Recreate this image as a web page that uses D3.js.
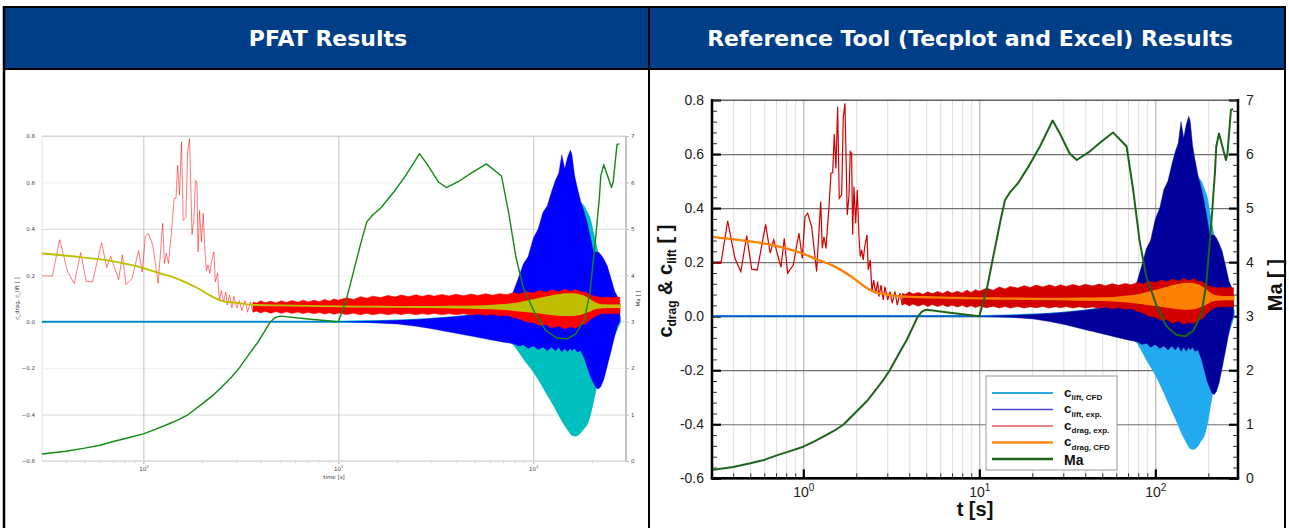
<!DOCTYPE html>
<html><head><meta charset="utf-8">
<script src="https://cdn.jsdelivr.net/npm/d3@7"></script>
<style>html,body{margin:0;padding:0;background:#fff;} svg{display:block}</style>
</head><body>
<svg id="chart" width="1289" height="528"></svg>
<script>
// ---------------- DATA ----------------
const headerTitles = ["PFAT Results", "Reference Tool (Tecplot and Excel) Results"];
const coefTicks = [-0.6, -0.4, -0.2, 0.0, 0.2, 0.4, 0.6, 0.8];
const machTicks = [0, 1, 2, 3, 4, 5, 6, 7];
const timeDecades = [1, 10, 100];
const legendLabels = [["c", "lift, CFD"], ["c", "lift, exp."], ["c", "drag, exp."], ["c", "drag, CFD"], ["Ma", ""]];

// c_drag experimental: individual early samples [s], value
const dragExpTime = [0.30,0.341,0.372,0.409,0.442,0.477,0.509,0.548,0.611,0.649,0.679,0.747,0.780,0.815,0.877,0.945,0.987,1.023,1.059,1.116,1.191,1.256,1.282,1.311,1.346,1.400,1.437,1.469,1.500,1.533,1.568,1.601,1.652,1.687,1.725,1.777,1.817,1.849,1.882,1.908,1.941,1.984,2.027,2.072,2.109,2.147,2.193,2.233,2.301,2.340,2.402,2.456,2.511,2.578,2.647,2.692,2.764,2.846,2.909,3.02,3.11,3.20,3.32,3.42,3.54,3.65];
const dragExpValue = [0.198,0.196,0.353,0.214,0.165,0.298,0.174,0.171,0.340,0.233,0.282,0.181,0.288,0.159,0.189,0.307,0.214,0.368,0.381,0.331,0.165,0.424,0.251,0.294,0.251,0.405,0.529,0.531,0.674,0.547,0.775,0.436,0.449,0.732,0.788,0.375,0.442,0.609,0.603,0.301,0.479,0.344,0.467,0.294,0.220,0.245,0.208,0.257,0.301,0.171,0.208,0.091,0.134,0.085,0.128,0.072,0.115,0.060,0.109,0.060,0.091,0.048,0.091,0.041,0.085,0.041];
// c_drag experimental: dense oscillation envelope (upper / lower)
const dragBandTime = [3.65,3.8,4.0,4.2,4.5,4.8,5.1,5.4,5.8,6.2,6.6,7.0,7.5,8.0,8.5,9.0,9.5,10,11,12,13,14,15,16.5,18,19.5,21,23,25,27,29,31,34,37,40,44,48,52,57,62,67,73,79,85,92,100,108,116,125,135,145,155,165,175,185,195,205,215,225,240,255,268,278];
const dragBandHigh = [0.085,0.080,0.090,0.082,0.088,0.081,0.090,0.083,0.091,0.084,0.093,0.085,0.092,0.086,0.096,0.088,0.098,0.092,0.103,0.096,0.108,0.101,0.110,0.104,0.113,0.106,0.115,0.108,0.116,0.109,0.116,0.110,0.117,0.111,0.118,0.112,0.119,0.113,0.120,0.114,0.121,0.116,0.125,0.119,0.129,0.124,0.134,0.127,0.137,0.129,0.140,0.131,0.139,0.128,0.128,0.116,0.110,0.107,0.104,0.106,0.104,0.106,0.105];
const dragBandLow = [0.041,0.046,0.038,0.045,0.037,0.044,0.036,0.043,0.036,0.042,0.035,0.041,0.034,0.040,0.033,0.039,0.032,0.038,0.031,0.037,0.030,0.036,0.030,0.036,0.030,0.035,0.031,0.036,0.030,0.035,0.031,0.036,0.030,0.035,0.030,0.034,0.029,0.033,0.028,0.032,0.026,0.028,0.018,0.012,0.000,-0.004,-0.016,-0.012,-0.026,-0.018,-0.030,-0.022,-0.028,-0.014,-0.010,0.008,0.020,0.030,0.034,0.035,0.034,0.036,0.035];

// c_drag CFD (upper / lower of its oscillation; equal while steady)
const dragCfdTime = [0.30,0.43,0.66,0.98,1.22,1.45,1.88,2.24,2.50,2.90,3.80,5,7,10,15,20,30,40,50,60,70,80,90,100,110,120,130,140,150,160,170,180,190,200,210,220,235,250,265,278];
const dragCfdHigh = [0.294,0.282,0.264,0.233,0.208,0.189,0.146,0.109,0.091,0.082,0.072,0.070,0.068,0.066,0.065,0.064,0.064,0.065,0.066,0.068,0.072,0.077,0.085,0.093,0.100,0.107,0.113,0.117,0.119,0.119,0.116,0.110,0.100,0.088,0.078,0.073,0.071,0.070,0.070,0.070];
const dragCfdLow = [0.294,0.282,0.264,0.233,0.208,0.189,0.146,0.109,0.091,0.082,0.072,0.070,0.068,0.066,0.065,0.064,0.063,0.061,0.060,0.058,0.055,0.050,0.046,0.042,0.038,0.034,0.031,0.029,0.028,0.029,0.032,0.037,0.044,0.052,0.058,0.061,0.062,0.063,0.063,0.063];

// c_lift experimental envelope
const liftExpTime = [0.30,10,15,20,25,30,40,50,60,70,75,79,84,89,94,100,106,112,118,124,130,135,140,145,150,155,158,163,168,175,183,190,197,204,210,216,222,230,240,252,262,270,278];
const liftExpHigh = [0,0,0.003,0.006,0.010,0.014,0.022,0.030,0.040,0.060,0.09,0.13,0.19,0.25,0.28,0.36,0.40,0.47,0.50,0.56,0.61,0.64,0.72,0.66,0.71,0.74,0.72,0.63,0.58,0.52,0.47,0.42,0.36,0.30,0.30,0.30,0.29,0.27,0.24,0.18,0.13,0.11,0.07];
const liftExpLow = [0,0,-0.004,-0.010,-0.020,-0.030,-0.050,-0.065,-0.078,-0.088,-0.092,-0.095,-0.105,-0.100,-0.115,-0.105,-0.120,-0.110,-0.125,-0.110,-0.125,-0.110,-0.130,-0.115,-0.130,-0.115,-0.125,-0.115,-0.130,-0.125,-0.16,-0.20,-0.24,-0.265,-0.285,-0.29,-0.28,-0.25,-0.19,-0.12,-0.06,-0.02,0.0];

// c_lift CFD envelope
const liftCfdTime = [0.30,10,20,30,40,50,60,70,79,85,90,100,110,120,130,140,150,158,165,172,180,188,195,200,205,210,220,235,250,265,278];
const liftCfdHigh = [0,0,0.005,0.012,0.02,0.03,0.04,0.055,0.07,0.09,0.11,0.15,0.2,0.25,0.3,0.36,0.42,0.47,0.5,0.51,0.5,0.47,0.44,0.4,0.36,0.32,0.25,0.17,0.1,0.05,0.02];
const liftCfdLow = [0,0,-0.005,-0.015,-0.025,-0.04,-0.055,-0.075,-0.095,-0.13,-0.16,-0.21,-0.265,-0.32,-0.37,-0.42,-0.46,-0.485,-0.49,-0.48,-0.46,-0.44,-0.40,-0.36,-0.32,-0.28,-0.22,-0.14,-0.09,-0.04,0.0];

// Mach number
const machTime = [0.30,0.40,0.50,0.60,0.70,0.80,1.00,1.15,1.30,1.50,1.70,2.00,2.30,2.60,2.85,3.10,3.46,3.87,4.21,4.45,4.70,4.90,5.05,7.0,10.0,11.0,12.0,13.1,14.0,15.0,16.6,19.3,22.1,26.1,28.7,32.6,35.8,41.7,48.5,57.5,68.7,74.9,81.3,88.9,102,116,132,149,165,183,195,208,218,222,230,252,257,269,277];
const machValue = [0.15,0.21,0.277,0.34,0.42,0.48,0.585,0.68,0.77,0.88,1.0,1.23,1.43,1.65,1.82,2.0,2.28,2.56,2.81,2.98,3.08,3.11,3.12,3.06,3.0,3.48,4.1,4.72,5.15,5.30,5.46,5.80,6.14,6.62,6.38,6.01,5.89,6.03,6.21,6.40,6.14,5.33,4.41,3.73,3.18,2.81,2.65,2.63,2.74,3.05,3.61,4.72,5.64,6.14,6.38,5.89,6.01,6.82,6.83];

// ---------------- DRAWING ----------------
const svg = d3.select('#chart');
const HEAD = "'DejaVu Sans', Verdana, sans-serif";
const ARIAL = "'Liberation Sans', Arial, sans-serif";
const MPL = "'DejaVu Sans', sans-serif";

// header band
svg.append('rect').attr('x', 4).attr('y', 7).attr('width', 1281).attr('height', 62).attr('fill', '#003f87');
function headerText(txt, cx, width) {
  const t = svg.append('text').attr('x', cx).attr('y', 46).attr('text-anchor', 'middle')
    .attr('fill', '#fff').attr('font-family', HEAD).attr('font-weight', 'bold').attr('font-size', 20).text(txt);
  const w = t.node().getComputedTextLength();
  t.attr('font-size', Math.min(22, 20 * width / w));
}
headerText(headerTitles[0], 328, 174);
headerText(headerTitles[1], 970, 578);
// table borders
const bl = (x1, y1, x2, y2, w) => svg.append('line').attr('x1', x1).attr('y1', y1).attr('x2', x2).attr('y2', y2).attr('stroke', '#000').attr('stroke-width', w);
bl(3, 7, 1286, 7, 2);
bl(3, 69, 1286, 69, 2);
bl(4, 6, 4, 528, 2.5);
bl(1285, 6, 1285, 528, 2);
bl(649, 6, 649, 528, 2);

function zipT(t, a, b) {
  const n = Math.min(t.length, a.length, b ? b.length : Infinity);
  return d3.range(n).map(i => ({ t: t[i], hi: a[i], lo: b ? b[i] : a[i] }));
}

function drawSeries(g, x, y, yMa, st) {
  const area = d3.area().x(d => x(d.t)).y0(d => y(d.lo)).y1(d => y(d.hi));
  const areaSmooth = d3.area().x(d => x(d.t)).y0(d => y(d.lo)).y1(d => y(d.hi)).curve(d3.curveMonotoneX);
  const line = d3.line().x(d => x(d.t)).y(d => y(d.hi));
  g.append('path').datum(zipT(liftCfdTime, liftCfdHigh, liftCfdLow)).attr('d', areaSmooth)
    .attr('fill', st.liftCfd).attr('stroke', st.liftCfd).attr('stroke-width', st.liftCfdW);
  g.append('path').datum(zipT(liftExpTime, liftExpHigh, liftExpLow)).attr('d', area)
    .attr('fill', st.liftExp).attr('stroke', st.liftExp).attr('stroke-width', st.liftExpW).attr('stroke-opacity', st.liftExpO);
  g.append('path').datum(zipT(dragExpTime, dragExpValue)).attr('d', line)
    .attr('fill', 'none').attr('stroke', st.dragExp).attr('stroke-width', st.dragExpW).attr('stroke-opacity', st.dragExpO);
  g.append('path').datum(zipT(dragBandTime, dragBandHigh, dragBandLow)).attr('d', area)
    .attr('fill', st.dragExp).attr('stroke', st.dragExp).attr('stroke-width', 0.6);
  g.append('path').datum(zipT(dragCfdTime, dragCfdHigh, dragCfdLow)).attr('d', areaSmooth)
    .attr('fill', st.dragCfd).attr('stroke', st.dragCfd).attr('stroke-width', st.dragCfdW);
  g.append('path').datum(zipT(machTime, machValue)).attr('d', d3.line().x(d => x(d.t)).y(d => yMa(d.hi)))
    .attr('fill', 'none').attr('stroke', st.mach).attr('stroke-width', st.machW).attr('stroke-linejoin', 'round');
}

// ---------- LEFT: PFAT (matplotlib look) ----------
(function () {
  const L = 42, R = 626, T = 136, B = 461;
  const x = d3.scaleLog().domain([0.302, 299]).range([L, R]);
  const y = d3.scaleLinear().domain([-0.6, 0.8]).range([B, T]);
  const yMa = d3.scaleLinear().domain([0, 7]).range([B, T]);
  const g = svg.append('g');
  // grid
  g.append('g').attr('transform', `translate(${L},0)`)
    .call(d3.axisLeft(y).tickValues(coefTicks).tickSize(-(R - L)).tickFormat(''))
    .call(s => { s.select('.domain').remove(); s.selectAll('line').attr('stroke', d => (Math.round(d * 10) % 4 === 0) ? '#d9d9d9' : '#f0f0f0').attr('stroke-width', 1); });
  g.append('g').attr('transform', `translate(0,${B})`)
    .call(d3.axisBottom(x).tickValues(timeDecades).tickSize(-(B - T)).tickFormat(''))
    .call(s => { s.select('.domain').remove(); s.selectAll('line').attr('stroke', '#c4c4c4').attr('stroke-width', 1); });
  // spines
  bl(L, T, R, T, 1).attr('stroke', '#cfcfcf');
  bl(L, T, L, B, 1).attr('stroke', '#e0e0e0');
  bl(L, B, R, B, 1.5).attr('stroke', '#dadada');
  bl(R, T, R, B, 2).attr('stroke', '#c4c4c4');
  // data
  svg.append('clipPath').attr('id', 'clipL').append('rect').attr('x', L).attr('y', T - 2).attr('width', R - L).attr('height', B - T + 4);
  const dg = svg.append('g').attr('clip-path', 'url(#clipL)');
  drawSeries(dg, x, y, yMa, {
    liftCfd: '#00bfbf', liftCfdW: 2, liftExp: '#0000ff', liftExpW: 0.7, liftExpO: 0.4,
    dragExp: '#ff0000', dragExpW: 0.7, dragExpO: 0.75, dragCfd: '#bfbf00', dragCfdW: 1.8,
    mach: '#118a11', machW: 1.4
  });
  // tick labels
  g.append('g').attr('transform', `translate(${L},0)`)
    .call(d3.axisLeft(y).tickValues(coefTicks).tickSize(0).tickPadding(7).tickFormat(d3.format('.1f')))
    .call(s => { s.select('.domain').remove(); s.selectAll('text').attr('font-family', MPL).attr('font-size', 5.5).attr('fill', '#444'); });
  g.append('g').attr('transform', `translate(${R},0)`)
    .call(d3.axisRight(yMa).tickValues(machTicks).tickSize(3).tickPadding(2).tickFormat(d3.format('d')))
    .call(s => { s.select('.domain').remove(); s.selectAll('line').attr('stroke', '#bbb'); s.selectAll('text').attr('font-family', MPL).attr('font-size', 5.5).attr('fill', '#444'); });
  const minors = x.ticks().filter(v => timeDecades.indexOf(v) < 0 && v > 0.31 && v < 290);
  g.append('g').attr('transform', `translate(0,${B})`)
    .call(d3.axisBottom(x).tickValues(minors).tickSize(2).tickFormat(''))
    .call(s => { s.select('.domain').remove(); s.selectAll('line').attr('stroke', '#aaa').attr('stroke-width', 0.6); });
  g.append('g').attr('transform', `translate(0,${B})`)
    .call(d3.axisBottom(x).tickValues(timeDecades).tickSize(3).tickPadding(3).tickFormat(''))
    .call(s => {
      s.select('.domain').remove(); s.selectAll('line').attr('stroke', '#aaa');
      s.selectAll('.tick text').attr('font-family', MPL).attr('font-size', 5.5).attr('fill', '#444').each(function (d) {
        const t = d3.select(this);
        t.append('tspan').text('10');
        t.append('tspan').attr('dy', -2.5).attr('font-size', 3.8).text(Math.round(Math.log10(d)));
      });
    });
  svg.append('text').attr('x', (L + R) / 2).attr('y', 479).attr('text-anchor', 'middle').attr('font-family', MPL).attr('font-size', 5.5).attr('fill', '#333').text('time [s]');
  svg.append('text').attr('transform', `translate(19,${(T + B) / 2}) rotate(-90)`).attr('text-anchor', 'middle').attr('font-family', MPL).attr('font-size', 5.5).attr('fill', '#333').text('c_drag, c_lift [ ]');
  svg.append('text').attr('transform', `translate(640,${(T + B) / 2}) rotate(-90)`).attr('text-anchor', 'middle').attr('font-family', MPL).attr('font-size', 5.5).attr('fill', '#333').text('Ma [ ]');
})();

// ---------- RIGHT: Reference tool (Tecplot look) ----------
(function () {
  const L = 712, R = 1238, T = 100, B = 478.3;
  const x = d3.scaleLog().domain([0.303, 295]).range([L, R]);
  const y = d3.scaleLinear().domain([-0.6, 0.8]).range([B, T]);
  const yMa = d3.scaleLinear().domain([0, 7]).range([B, T]);
  const g = svg.append('g');
  const minors = x.ticks().filter(v => timeDecades.indexOf(v) < 0 && v > 0.31 && v < 290);
  // vertical grid
  g.append('g').attr('transform', `translate(0,${B})`)
    .call(d3.axisBottom(x).tickValues(minors).tickSize(-(B - T)).tickFormat(''))
    .call(s => { s.select('.domain').remove(); s.selectAll('line').attr('stroke', '#dedede').attr('stroke-width', 1); });
  g.append('g').attr('transform', `translate(0,${B})`)
    .call(d3.axisBottom(x).tickValues(timeDecades).tickSize(-(B - T)).tickFormat(''))
    .call(s => { s.select('.domain').remove(); s.selectAll('line').attr('stroke', '#a8a8a8').attr('stroke-width', 1); });
  // horizontal grid
  g.append('g').attr('transform', `translate(${L},0)`)
    .call(d3.axisLeft(y).tickValues(coefTicks).tickSize(-(R - L)).tickFormat(''))
    .call(s => { s.select('.domain').remove(); s.selectAll('line').attr('stroke', '#707070').attr('stroke-width', 1.2); });
  // data
  svg.append('clipPath').attr('id', 'clipR').append('rect').attr('x', L).attr('y', T - 2).attr('width', R - L).attr('height', B - T + 4);
  const dg = svg.append('g').attr('clip-path', 'url(#clipR)');
  drawSeries(dg, x, y, yMa, {
    liftCfd: '#22aaf0', liftCfdW: 2.4, liftExp: '#00009c', liftExpW: 1, liftExpO: 0.4,
    dragExp: '#d20000', dragExpW: 1.2, dragExpO: 1, dragCfd: '#ff8000', dragCfdW: 2.3,
    mach: '#1c641c', machW: 2
  });
  // axes frame
  bl(L, T, R, T, 1).attr('stroke', '#555');
  bl(L, T - 1, L, B + 1.2, 2.5);
  bl(L - 1.2, B, R + 1.2, B, 2.5);
  bl(R, T - 1, R, B + 1.2, 2.5);
  // ticks
  const fmt = d => d.toFixed(1);
  const styleTxt = s => s.selectAll('text').attr('font-family', ARIAL).attr('font-size', 14).attr('fill', '#222');
  const minorCoef = d3.range(-0.6, 0.8001, 0.04).filter(v => Math.abs(v * 5 - Math.round(v * 5)) > 1e-6);
  g.append('g').attr('transform', `translate(${L},0)`)
    .call(d3.axisLeft(y).tickValues(minorCoef).tickSize(-5).tickFormat(''))
    .call(s => { s.select('.domain').remove(); s.selectAll('line').attr('stroke', '#333').attr('stroke-width', 1); });
  g.append('g').attr('transform', `translate(${L},0)`)
    .call(d3.axisLeft(y).tickValues(coefTicks).tickSize(-9).tickPadding(8).tickFormat(fmt))
    .call(s => { s.select('.domain').remove(); s.selectAll('line').attr('stroke', '#000').attr('stroke-width', 2.2); styleTxt(s); });
  const minorMa = d3.range(0, 7.001, 0.2).filter(v => Math.abs(v - Math.round(v)) > 1e-6);
  g.append('g').attr('transform', `translate(${R},0)`)
    .call(d3.axisRight(yMa).tickValues(minorMa).tickSize(-5).tickFormat(''))
    .call(s => { s.select('.domain').remove(); s.selectAll('line').attr('stroke', '#333').attr('stroke-width', 1); });
  g.append('g').attr('transform', `translate(${R},0)`)
    .call(d3.axisRight(yMa).tickValues(machTicks).tickSize(-9).tickPadding(8).tickFormat(d3.format('d')))
    .call(s => { s.select('.domain').remove(); s.selectAll('line').attr('stroke', '#000').attr('stroke-width', 2.2); styleTxt(s); });
  g.append('g').attr('transform', `translate(0,${B})`)
    .call(d3.axisBottom(x).tickValues(minors).tickSize(-5).tickFormat(''))
    .call(s => { s.select('.domain').remove(); s.selectAll('line').attr('stroke', '#333').attr('stroke-width', 1); });
  g.append('g').attr('transform', `translate(0,${B})`)
    .call(d3.axisBottom(x).tickValues(timeDecades).tickSize(-9).tickPadding(9).tickFormat(''))
    .call(s => {
      s.select('.domain').remove(); s.selectAll('line').attr('stroke', '#000').attr('stroke-width', 2.2);
      styleTxt(s);
      s.selectAll('.tick text').each(function (d) {
        const t = d3.select(this);
        t.append('tspan').text('10');
        t.append('tspan').attr('dy', -6).attr('font-size', 10).text(Math.round(Math.log10(d)));
      });
    });
  // axis titles
  const lt = svg.append('text').attr('transform', `translate(672,${(T + B) / 2 - 8}) rotate(-90)`).attr('text-anchor', 'middle')
    .attr('font-family', ARIAL).attr('font-weight', 'bold').attr('font-size', 20).attr('fill', '#111');
  lt.append('tspan').text('c');
  lt.append('tspan').attr('font-size', 12).attr('dy', 4).text('drag');
  lt.append('tspan').attr('dy', -4).text(' & c');
  lt.append('tspan').attr('font-size', 12).attr('dy', 4).text('lift');
  lt.append('tspan').attr('dy', -4).text(' [ ]');
  svg.append('text').attr('transform', `translate(1282,${(T + B) / 2 - 4}) rotate(-90)`).attr('text-anchor', 'middle')
    .attr('font-family', ARIAL).attr('font-weight', 'bold').attr('font-size', 20).attr('fill', '#111').text('Ma [ ]');
  svg.append('text').attr('x', (L + R) / 2).attr('y', 516).attr('text-anchor', 'middle')
    .attr('font-family', ARIAL).attr('font-weight', 'bold').attr('font-size', 20).attr('fill', '#111').text('t [s]');
  // legend
  const lg = svg.append('g').attr('transform', 'translate(986,376)');
  lg.append('rect').attr('width', 131).attr('height', 94).attr('fill', '#fff').attr('stroke', '#999').attr('stroke-width', 1);
  const legColors = ['#29abe2', '#4a4ad0', '#e25a5a', '#ff8a1a', '#1c641c'];
  const legW = [2.2, 1.6, 1.6, 2.6, 2.6];
  legendLabels.forEach((lab, i) => {
    const yy = 17 + i * 16.5;
    lg.append('line').attr('x1', 6).attr('x2', 67).attr('y1', yy).attr('y2', yy).attr('stroke', legColors[i]).attr('stroke-width', legW[i]);
    const t = lg.append('text').attr('x', 78).attr('y', lab[1] ? yy + 3.5 : yy + 6).attr('font-family', ARIAL).attr('font-weight', 'bold').attr('fill', '#111');
    t.append('tspan').attr('font-size', lab[1] ? 13.5 : 14).text(lab[0]);
    if (lab[1]) t.append('tspan').attr('font-size', 8).attr('dy', 3.5).text(lab[1]);
  });
})();
</script>
</body></html>
